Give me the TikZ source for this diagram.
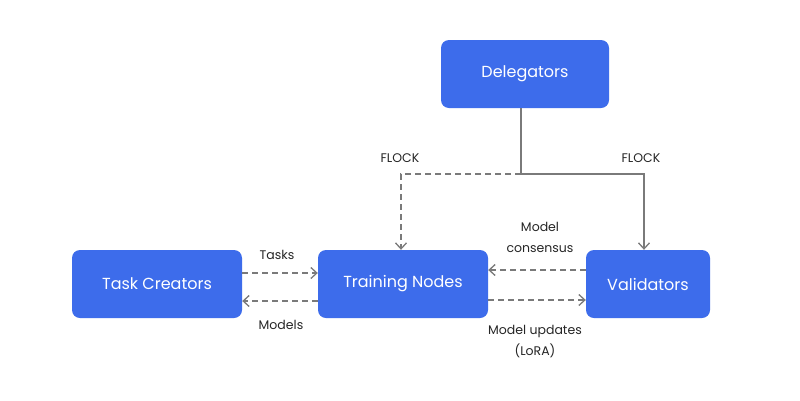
\documentclass[tikz,border=0pt]{standalone}
\usepackage{fontspec}
\setmainfont{Poppins}
\usetikzlibrary{arrows.meta}
\definecolor{boxblue}{HTML}{3D6CEB}
\definecolor{linegray}{HTML}{7A7A7A}
\tikzset{
  box/.style={draw=none, fill=boxblue, rounded corners=8pt, text=white, font=\fontsize{16}{18}\selectfont, inner sep=0pt, anchor=center},
  lbl/.style={font=\fontsize{12.5}{21}\selectfont, text=black!85, align=center, inner sep=0pt},
  conn/.style={draw=linegray, line width=1.6pt},
  dconn/.style={conn, dash pattern=on 6pt off 4pt},
  tip/.style={-{Straight Barb[length=6pt,width=11pt,line width=1.3pt]}}
}
\begin{document}
\begin{tikzpicture}[x=1pt,y=-1pt]
\useasboundingbox (0,0) rectangle (800,400);
\fill[white] (0,0) rectangle (800,400);
\node[box, minimum width=168pt, minimum height=68pt] (del) at (525,74) {Delegators};
\node[box, minimum width=170pt, minimum height=68pt] (tc) at (157,284) {Task Creators};
\node[box, minimum width=170pt, minimum height=68pt] (tn) at (403,284) {Training Nodes};
\node[box, minimum width=124pt, minimum height=68pt] (val) at (648,284) {Validators};
\coordinate (j) at (521,174);
\coordinate (jl) at (401,174);
\coordinate (jr) at (644,174);
\draw[conn] (del.south -| j) -- (j);
\draw[dconn, tip] (j) -- (jl) -- (jl |- tn.north);
\draw[conn, tip] (j) -- (jr) -- (jr |- val.north);
\node[lbl] (f1) at (400,158) {FLOCK};
\node[lbl] (f2) at (641,158) {FLOCK};
\draw[dconn, tip] ([yshift=11pt]tc.east) -- ([yshift=11pt]tn.west);
\draw[dconn, tip] ([yshift=-17pt]tn.west) -- ([yshift=-17pt]tc.east);
\draw[dconn, tip] ([yshift=14pt]val.west) -- ([yshift=14pt]tn.east);
\draw[dconn, tip] ([yshift=-16pt]tn.east) -- ([yshift=-16pt]val.west);
\node[lbl] (t1) at (277,255) {Tasks};
\node[lbl] (t2) at (281,325) {Models};
\node[lbl] (t3) at (540,237) {Model\\consensus};
\node[lbl] (t4) at (535,342) {Model updates\\(LoRA)};
\end{tikzpicture}
\end{document}
